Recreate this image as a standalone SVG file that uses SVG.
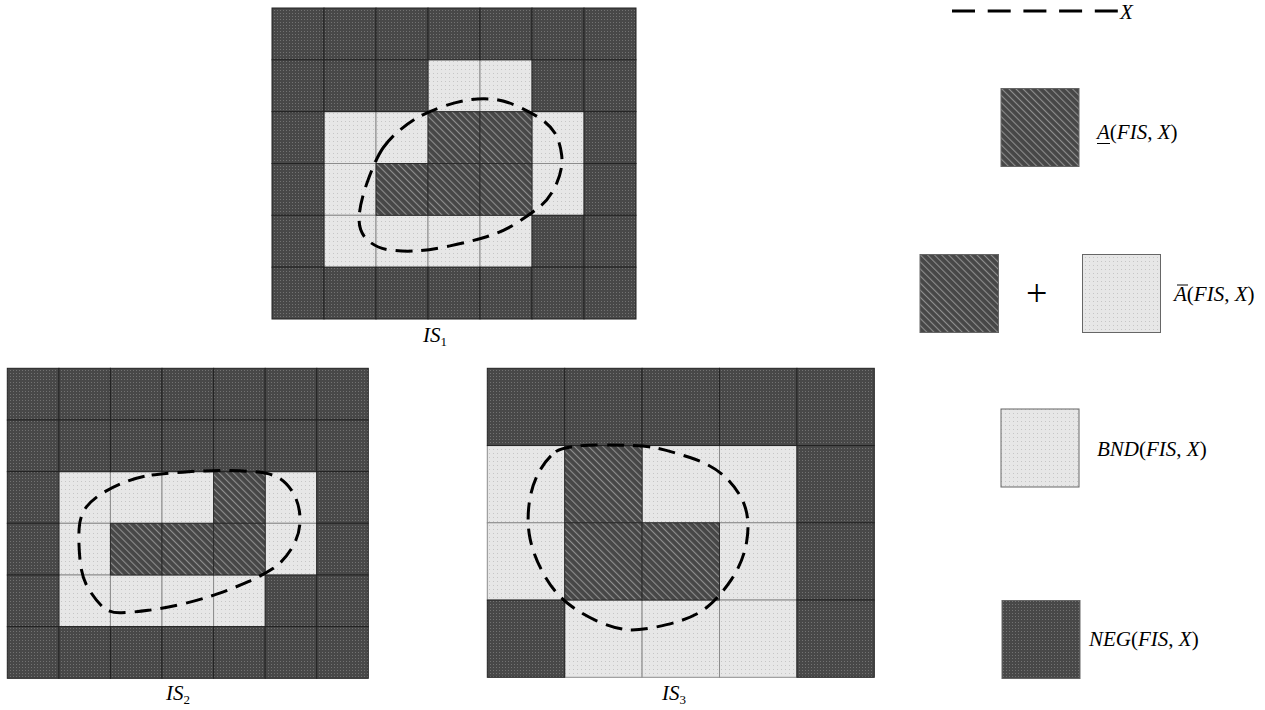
<svg xmlns="http://www.w3.org/2000/svg" width="1265" height="710" viewBox="0 0 1265 710">
<style>
.neg{fill:url(#pNeg);stroke:#222;stroke-width:1}
.pos{fill:url(#pPos);stroke:#2a2a2a;stroke-width:1}
.bnd{fill:url(#pBnd);stroke:#8c8c8c;stroke-width:1}
.leg{stroke:#666;stroke-width:1}
.curve{fill:none;stroke:#000;stroke-width:3;stroke-dasharray:17 9;stroke-linecap:butt}
.lbl{font-family:"Liberation Serif","Times New Roman",serif;font-size:21px;fill:#000}
.it{font-style:italic}
.sub{font-size:13px}
</style>
<defs>
<pattern id="pNeg" width="3" height="3" patternUnits="userSpaceOnUse">
<rect width="3" height="3" fill="#484848"/>
<rect x="1" y="1" width="1" height="1" fill="#727272"/>
</pattern>
<pattern id="pPos" width="5" height="5" patternUnits="userSpaceOnUse" patternTransform="rotate(-45)">
<rect width="5" height="5" fill="#474747"/>
<rect x="0" y="0" width="1.1" height="5" fill="#8e8e8e"/>
</pattern>
<pattern id="pBnd" width="4" height="4" patternUnits="userSpaceOnUse">
<rect width="4" height="4" fill="#e7e7e7"/>
<rect x="1" y="1" width="1" height="1" fill="#c6c6c6"/>
</pattern>
</defs>
<rect width="1265" height="710" fill="#fff"/>

<g id="grid-IS1">
<rect class="bnd" x="428" y="59.8" width="52" height="51.8"/>
<rect class="bnd" x="480" y="59.8" width="52" height="51.8"/>
<rect class="bnd" x="324" y="111.7" width="52" height="51.8"/>
<rect class="bnd" x="376" y="111.7" width="52" height="51.8"/>
<rect class="bnd" x="532" y="111.7" width="52" height="51.8"/>
<rect class="bnd" x="324" y="163.5" width="52" height="51.8"/>
<rect class="bnd" x="532" y="163.5" width="52" height="51.8"/>
<rect class="bnd" x="324" y="215.3" width="52" height="51.8"/>
<rect class="bnd" x="376" y="215.3" width="52" height="51.8"/>
<rect class="bnd" x="428" y="215.3" width="52" height="51.8"/>
<rect class="bnd" x="480" y="215.3" width="52" height="51.8"/>
<rect class="pos" x="428" y="111.7" width="52" height="51.8"/>
<rect class="pos" x="480" y="111.7" width="52" height="51.8"/>
<rect class="pos" x="376" y="163.5" width="52" height="51.8"/>
<rect class="pos" x="428" y="163.5" width="52" height="51.8"/>
<rect class="pos" x="480" y="163.5" width="52" height="51.8"/>
<rect class="neg" x="272" y="8" width="52" height="51.8"/>
<rect class="neg" x="324" y="8" width="52" height="51.8"/>
<rect class="neg" x="376" y="8" width="52" height="51.8"/>
<rect class="neg" x="428" y="8" width="52" height="51.8"/>
<rect class="neg" x="480" y="8" width="52" height="51.8"/>
<rect class="neg" x="532" y="8" width="52" height="51.8"/>
<rect class="neg" x="584" y="8" width="52" height="51.8"/>
<rect class="neg" x="272" y="59.8" width="52" height="51.8"/>
<rect class="neg" x="324" y="59.8" width="52" height="51.8"/>
<rect class="neg" x="376" y="59.8" width="52" height="51.8"/>
<rect class="neg" x="532" y="59.8" width="52" height="51.8"/>
<rect class="neg" x="584" y="59.8" width="52" height="51.8"/>
<rect class="neg" x="272" y="111.7" width="52" height="51.8"/>
<rect class="neg" x="584" y="111.7" width="52" height="51.8"/>
<rect class="neg" x="272" y="163.5" width="52" height="51.8"/>
<rect class="neg" x="584" y="163.5" width="52" height="51.8"/>
<rect class="neg" x="272" y="215.3" width="52" height="51.8"/>
<rect class="neg" x="532" y="215.3" width="52" height="51.8"/>
<rect class="neg" x="584" y="215.3" width="52" height="51.8"/>
<rect class="neg" x="272" y="267.2" width="52" height="51.8"/>
<rect class="neg" x="324" y="267.2" width="52" height="51.8"/>
<rect class="neg" x="376" y="267.2" width="52" height="51.8"/>
<rect class="neg" x="428" y="267.2" width="52" height="51.8"/>
<rect class="neg" x="480" y="267.2" width="52" height="51.8"/>
<rect class="neg" x="532" y="267.2" width="52" height="51.8"/>
<rect class="neg" x="584" y="267.2" width="52" height="51.8"/>
<text class="lbl" x="423" y="342"><tspan class="it">IS</tspan><tspan class="sub" dy="4">1</tspan></text>
</g>

<g id="grid-IS2">
<rect class="bnd" x="58.9" y="471.6" width="51.6" height="51.7"/>
<rect class="bnd" x="110.4" y="471.6" width="51.6" height="51.7"/>
<rect class="bnd" x="162" y="471.6" width="51.6" height="51.7"/>
<rect class="bnd" x="265.2" y="471.6" width="51.6" height="51.7"/>
<rect class="bnd" x="58.9" y="523.3" width="51.6" height="51.7"/>
<rect class="bnd" x="265.2" y="523.3" width="51.6" height="51.7"/>
<rect class="bnd" x="58.9" y="575" width="51.6" height="51.7"/>
<rect class="bnd" x="110.4" y="575" width="51.6" height="51.7"/>
<rect class="bnd" x="162" y="575" width="51.6" height="51.7"/>
<rect class="bnd" x="213.6" y="575" width="51.6" height="51.7"/>
<rect class="pos" x="213.6" y="471.6" width="51.6" height="51.7"/>
<rect class="pos" x="110.4" y="523.3" width="51.6" height="51.7"/>
<rect class="pos" x="162" y="523.3" width="51.6" height="51.7"/>
<rect class="pos" x="213.6" y="523.3" width="51.6" height="51.7"/>
<rect class="neg" x="7.3" y="368.3" width="51.6" height="51.7"/>
<rect class="neg" x="58.9" y="368.3" width="51.6" height="51.7"/>
<rect class="neg" x="110.4" y="368.3" width="51.6" height="51.7"/>
<rect class="neg" x="162" y="368.3" width="51.6" height="51.7"/>
<rect class="neg" x="213.6" y="368.3" width="51.6" height="51.7"/>
<rect class="neg" x="265.2" y="368.3" width="51.6" height="51.7"/>
<rect class="neg" x="316.7" y="368.3" width="51.6" height="51.7"/>
<rect class="neg" x="7.3" y="420" width="51.6" height="51.7"/>
<rect class="neg" x="58.9" y="420" width="51.6" height="51.7"/>
<rect class="neg" x="110.4" y="420" width="51.6" height="51.7"/>
<rect class="neg" x="162" y="420" width="51.6" height="51.7"/>
<rect class="neg" x="213.6" y="420" width="51.6" height="51.7"/>
<rect class="neg" x="265.2" y="420" width="51.6" height="51.7"/>
<rect class="neg" x="316.7" y="420" width="51.6" height="51.7"/>
<rect class="neg" x="7.3" y="471.6" width="51.6" height="51.7"/>
<rect class="neg" x="316.7" y="471.6" width="51.6" height="51.7"/>
<rect class="neg" x="7.3" y="523.3" width="51.6" height="51.7"/>
<rect class="neg" x="316.7" y="523.3" width="51.6" height="51.7"/>
<rect class="neg" x="7.3" y="575" width="51.6" height="51.7"/>
<rect class="neg" x="265.2" y="575" width="51.6" height="51.7"/>
<rect class="neg" x="316.7" y="575" width="51.6" height="51.7"/>
<rect class="neg" x="7.3" y="626.6" width="51.6" height="51.7"/>
<rect class="neg" x="58.9" y="626.6" width="51.6" height="51.7"/>
<rect class="neg" x="110.4" y="626.6" width="51.6" height="51.7"/>
<rect class="neg" x="162" y="626.6" width="51.6" height="51.7"/>
<rect class="neg" x="213.6" y="626.6" width="51.6" height="51.7"/>
<rect class="neg" x="265.2" y="626.6" width="51.6" height="51.7"/>
<rect class="neg" x="316.7" y="626.6" width="51.6" height="51.7"/>
<text class="lbl" x="166" y="700"><tspan class="it">IS</tspan><tspan class="sub" dy="4">2</tspan></text>
</g>

<g id="grid-IS3">
<rect class="bnd" x="487.3" y="445.55" width="77.4" height="77.25"/>
<rect class="bnd" x="642.1" y="445.55" width="77.4" height="77.25"/>
<rect class="bnd" x="719.5" y="445.55" width="77.4" height="77.25"/>
<rect class="bnd" x="487.3" y="522.8" width="77.4" height="77.25"/>
<rect class="bnd" x="719.5" y="522.8" width="77.4" height="77.25"/>
<rect class="bnd" x="564.7" y="600.05" width="77.4" height="77.25"/>
<rect class="bnd" x="642.1" y="600.05" width="77.4" height="77.25"/>
<rect class="bnd" x="719.5" y="600.05" width="77.4" height="77.25"/>
<rect class="pos" x="564.7" y="445.55" width="77.4" height="77.25"/>
<rect class="pos" x="564.7" y="522.8" width="77.4" height="77.25"/>
<rect class="pos" x="642.1" y="522.8" width="77.4" height="77.25"/>
<rect class="neg" x="487.3" y="368.3" width="77.4" height="77.25"/>
<rect class="neg" x="564.7" y="368.3" width="77.4" height="77.25"/>
<rect class="neg" x="642.1" y="368.3" width="77.4" height="77.25"/>
<rect class="neg" x="719.5" y="368.3" width="77.4" height="77.25"/>
<rect class="neg" x="796.9" y="368.3" width="77.4" height="77.25"/>
<rect class="neg" x="796.9" y="445.55" width="77.4" height="77.25"/>
<rect class="neg" x="796.9" y="522.8" width="77.4" height="77.25"/>
<rect class="neg" x="487.3" y="600.05" width="77.4" height="77.25"/>
<rect class="neg" x="796.9" y="600.05" width="77.4" height="77.25"/>
<text class="lbl" x="662" y="700"><tspan class="it">IS</tspan><tspan class="sub" dy="4">3</tspan></text>
</g>

<g id="connectors">
<path class="curve" d="M383.35,147.5 Q376.7,156.7 368.35,179.2 Q360,201.7 359.15,216.7 Q358.3,231.7 367.5,240 Q376.7,248.3 390,250 Q403.3,251.7 416.65,250.85 Q430,250 450,245.85 Q470,241.7 486.65,236.7 Q503.3,231.7 517.5,222.5 Q531.7,213.3 540.85,205.8 Q550,198.3 556.65,183.3 Q563.3,168.3 561.65,155 Q560,141.7 555,133.35 Q550,125 540,118.35 Q530,111.7 516.65,105.85 Q503.3,100 491.65,99.15 Q480,98.3 468.35,100 Q456.7,101.7 442.5,106.7 Q428.3,111.7 419.15,116.7 Q410,121.7 400,130 Q390,138.3 383.35,147.5 Z"/>
<path class="curve" d="M151.65,475 Q163.3,473.3 188.3,471.65 Q213.3,470 240,470.85 Q266.7,471.7 276.7,476.7 Q286.7,481.7 293.35,493.35 Q300,505 300,520 Q300,535 291.65,548.35 Q283.3,561.7 273.3,568.35 Q263.3,575 248.3,581.65 Q233.3,588.3 216.65,594.15 Q200,600 181.65,604.15 Q163.3,608.3 148.3,610.3 Q133.3,612.3 121.65,612.8 Q110,613.3 103.35,607.5 Q96.7,601.7 89.2,590 Q81.7,578.3 80,560 Q78.3,541.7 79.15,528.35 Q80,515 86.65,506.65 Q93.3,498.3 105,491.65 Q116.7,485 128.35,480.85 Q140,476.7 151.65,475 Z"/>
<path class="curve" d="M555.85,451.65 Q565,445 602.5,445 Q640,445 653.35,447.5 Q666.7,450 690,457.5 Q713.3,465 726.65,478.35 Q740,491.7 745,506.7 Q750,521.7 746.65,541.7 Q743.3,561.7 731.65,579.2 Q720,596.7 706.65,607.5 Q693.3,618.3 666.65,624.65 Q640,631 626.65,629.65 Q613.3,628.3 596.65,620.8 Q580,613.3 566.65,602.5 Q553.3,591.7 543.3,573.35 Q533.3,555 530,538.35 Q526.7,521.7 529.2,503.35 Q531.7,485 539.2,471.65 Q546.7,458.3 555.85,451.65 Z"/>
</g>

<g id="legend-X">
<line x1="952" y1="11" x2="1118" y2="11" stroke="#000" stroke-width="3" stroke-dasharray="23 12.7"/>
<text class="lbl it" x="1120" y="19">X</text>
</g>
<g id="legend-lower">
<rect class="pos leg" x="1001" y="88.5" width="78" height="78"/>
<text class="lbl" x="1097" y="139"><tspan class="it">A</tspan>(<tspan class="it">FIS</tspan>, <tspan class="it">X</tspan>)</text>
<line x1="1097" y1="143.5" x2="1110" y2="143.5" stroke="#000" stroke-width="1"/>
</g>
<g id="legend-upper">
<rect class="pos leg" x="920" y="254.5" width="78.5" height="78"/>
<text class="lbl" x="1026" y="306" style="font-size:38px">+</text>
<rect class="bnd leg" x="1082.5" y="254.5" width="78" height="78"/>
<text class="lbl" x="1174" y="301"><tspan class="it">A</tspan>(<tspan class="it">FIS</tspan>, <tspan class="it">X</tspan>)</text>
<line x1="1177" y1="285" x2="1188" y2="285" stroke="#000" stroke-width="1"/>
</g>
<g id="legend-bnd">
<rect class="bnd leg" x="1001" y="409" width="78" height="78"/>
<text class="lbl" x="1097" y="456"><tspan class="it">BND</tspan>(<tspan class="it">FIS</tspan>, <tspan class="it">X</tspan>)</text>
</g>
<g id="legend-neg">
<rect class="neg leg" x="1002" y="600.5" width="78" height="78"/>
<text class="lbl" x="1089" y="646"><tspan class="it">NEG</tspan>(<tspan class="it">FIS</tspan>, <tspan class="it">X</tspan>)</text>
</g>
</svg>
